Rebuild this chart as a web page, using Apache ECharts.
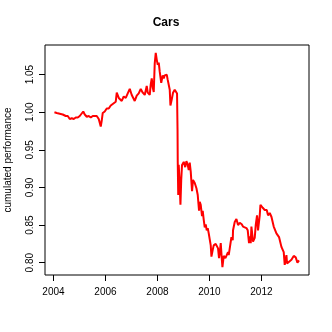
<!DOCTYPE html>
<html>
<head>
<meta charset="utf-8">
<script src="https://cdn.jsdelivr.net/npm/echarts@6/dist/echarts.min.js"></script>
<style>
html,body{margin:0;padding:0;background:#fff;}
#chart{width:332px;height:332px;}
</style>
</head>
<body>
<div id="chart"></div>
<script>
// Decimal years of the observations
var years = [2004.038,2004.127,2004.242,2004.358,2004.473,2004.550,2004.627,2004.704,2004.781,2004.819,
2004.858,2004.935,2005.012,2005.088,2005.146,2005.204,2005.281,2005.358,2005.435,2005.512,
2005.588,2005.665,2005.742,2005.781,2005.819,2005.858,2005.896,2005.973,2006.050,2006.127,
2006.204,2006.281,2006.319,2006.396,2006.435,2006.512,2006.550,2006.627,2006.704,2006.781,
2006.858,2006.935,2007.012,2007.088,2007.127,2007.204,2007.281,2007.358,2007.435,2007.512,
2007.588,2007.627,2007.704,2007.742,2007.781,2007.819,2007.858,2007.896,2007.935,2007.973,
2008.012,2008.050,2008.088,2008.146,2008.204,2008.242,2008.281,2008.358,2008.396,2008.435,
2008.473,2008.500,2008.550,2008.600,2008.665,2008.704,2008.754,2008.773,2008.781,2008.800,
2008.819,2008.858,2008.885,2008.915,2008.946,2009.012,2009.069,2009.115,2009.165,2009.204,
2009.242,2009.281,2009.331,2009.369,2009.435,2009.500,2009.550,2009.600,2009.627,2009.665,
2009.715,2009.742,2009.781,2009.819,2009.858,2009.896,2009.935,2009.973,2010.012,2010.050,
2010.077,2010.127,2010.165,2010.242,2010.331,2010.369,2010.396,2010.435,2010.473,2010.500,
2010.550,2010.615,2010.665,2010.715,2010.742,2010.781,2010.846,2010.896,2010.908,2010.973,
2011.038,2011.100,2011.165,2011.242,2011.292,2011.358,2011.423,2011.473,2011.523,2011.550,
2011.588,2011.615,2011.677,2011.742,2011.781,2011.831,2011.869,2011.935,2011.962,2012.050,
2012.127,2012.204,2012.254,2012.319,2012.385,2012.473,2012.577,2012.677,2012.769,2012.858,
2012.896,2012.962,2012.985,2013.050,2013.154,2013.242,2013.319,2013.385,2013.446];

// Cumulated performance values
var performance = [1.000,0.999,0.998,0.997,0.995,0.995,0.991,0.992,0.991,0.990,
0.993,0.993,0.995,0.995,1.001,0.997,0.994,0.995,0.993,0.995,
0.994,0.995,0.991,0.993,0.981,0.989,0.999,1.001,1.005,1.005,
1.009,1.011,1.009,1.014,1.026,1.019,1.018,1.015,1.021,1.019,
1.025,1.031,1.023,1.021,1.015,1.022,1.025,1.031,1.026,1.023,
1.035,1.026,1.023,1.037,1.045,1.033,1.027,1.065,1.079,1.070,
1.063,1.066,1.054,1.039,1.049,1.045,1.049,1.050,1.043,1.041,
1.030,1.009,1.017,1.026,1.030,1.031,1.025,0.977,0.934,0.890,
0.930,0.903,0.877,0.910,0.930,0.934,0.927,0.935,0.930,0.923,
0.933,0.921,0.895,0.910,0.906,0.899,0.890,0.869,0.881,0.877,
0.862,0.869,0.857,0.847,0.851,0.843,0.846,0.839,0.841,0.823,
0.808,0.817,0.823,0.825,0.819,0.806,0.813,0.826,0.806,0.794,
0.809,0.806,0.807,0.814,0.810,0.819,0.834,0.830,0.843,0.854,
0.858,0.850,0.853,0.851,0.848,0.849,0.846,0.843,0.826,0.835,
0.826,0.848,0.828,0.833,0.850,0.863,0.843,0.863,0.877,0.873,
0.870,0.870,0.863,0.866,0.861,0.848,0.839,0.834,0.821,0.814,
0.797,0.810,0.799,0.801,0.804,0.809,0.807,0.800,0.803];

var xTicks = [2004, 2006, 2008, 2010, 2012];
var yTicks = [0.80, 0.85, 0.90, 0.95, 1.00, 1.05];

var chartTitle = 'Cars';
var yAxisTitle = 'cumulated performance';

var data = years.map(function (y, i) { return [y, performance[i]]; });

var chart = echarts.init(document.getElementById('chart'), null, {renderer: 'canvas'});
var font = 'Liberation Sans, Arial, Helvetica, sans-serif';
chart.setOption({
  animation: false,
  backgroundColor: '#ffffff',
  grid: {left: 45, right: 23, top: 45, bottom: 57, show: true, borderColor: '#000', borderWidth: 1, backgroundColor: 'transparent'},
  graphic: [
    {type: 'text', left: 'center', x: 0, style: {text: chartTitle, x: 177, y: 23, textAlign: 'center', textVerticalAlign: 'middle', font: 'bold 12px ' + font, fill: '#000'}, position: [0,0]},
    {type: 'text', rotation: Math.PI / 2, x: 8, y: 160, style: {text: yAxisTitle, textAlign: 'center', textVerticalAlign: 'middle', font: '10px ' + font, fill: '#000'}}
  ],
  xAxis: {
    type: 'value', min: 2003.675, max: 2013.83,
    splitLine: {show: false},
    axisLine: {show: false},
    axisTick: {show: true, length: 6, customValues: xTicks, lineStyle: {color: '#000'}},
    axisLabel: {customValues: xTicks, margin: 12, fontSize: 10, fontFamily: font, color: '#000', formatter: function (v) { return String(v); }}
  },
  yAxis: {
    type: 'value', min: 0.7836, max: 1.0894,
    splitLine: {show: false},
    axisLine: {show: false},
    axisTick: {show: true, length: 6, customValues: yTicks, lineStyle: {color: '#000'}},
    axisLabel: {customValues: yTicks, rotate: 90, margin: 10, fontSize: 10, fontFamily: font, color: '#000', formatter: function (v) { return v.toFixed(2); }}
  },
  series: [{
    type: 'line', data: data, showSymbol: false, symbol: 'none',
    lineStyle: {color: '#ff0000', width: 2}, clip: false
  }]
});
</script>
</body>
</html>
